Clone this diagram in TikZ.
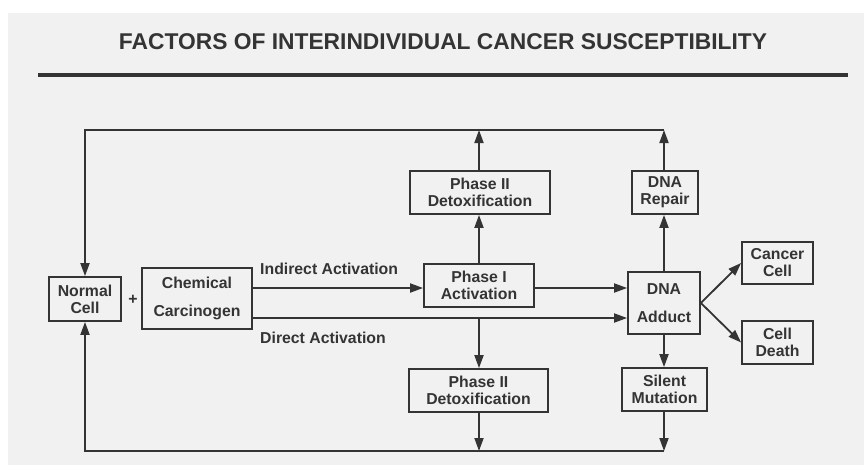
\documentclass[tikz,border=0pt]{standalone}
\usepackage{fontspec}
\setmainfont{Liberation Sans}
\usetikzlibrary{arrows.meta}
\definecolor{bg}{RGB}{241,241,241}
\definecolor{ink}{RGB}{52,52,52}
\begin{document}
\begin{tikzpicture}[x=1pt,y=-1pt,
  box/.style={draw=ink, line width=1.8pt, text=ink, font=\bfseries\fontsize{15.8}{17}\selectfont, align=center, inner sep=0pt},
  arr/.style={draw=ink, line width=1.8pt, line join=miter, -{Triangle[length=13pt,width=9pt]}},
  lab/.style={text=ink, font=\bfseries\fontsize{15.8}{17}\selectfont, inner sep=0pt}]
\useasboundingbox (0,0) rectangle (864,472);
\fill[white] (0,0) rectangle (864,472);
\fill[bg] (8,13) rectangle (864,465);
% title
\node[text=ink, font=\bfseries\fontsize{22.8}{24}\selectfont, inner sep=0pt] (title) at (443,42) {FACTORS OF INTERINDIVIDUAL CANCER SUSCEPTIBILITY};
\coordinate (rl) at (38,75);
\coordinate (rr) at (848,75);
\draw[ink, line width=4.5pt] (rl) -- (rr);
% boxes
\node[box, minimum width=72pt, minimum height=44pt] (normal) at (85,299) {Normal\\Cell};
\node[box, minimum width=110pt, minimum height=61pt] (chem) at (197,298.5) {Chemical\\[11pt]Carcinogen};
\node[box, minimum width=110pt, minimum height=43pt] (p1) at (479,285.5) {Phase I\\Activation};
\node[box, minimum width=140pt, minimum height=43pt] (p2a) at (480,192.5) {Phase II\\Detoxification};
\node[box, minimum width=139pt, minimum height=43pt] (p2b) at (478.5,390.5) {Phase II\\Detoxification};
\node[box, minimum width=66pt, minimum height=43pt] (rep) at (665,192.5) {DNA\\Repair};
\node[box, minimum width=72pt, minimum height=62pt] (add) at (664,303) {DNA\\[11pt]Adduct};
\node[box, minimum width=85pt, minimum height=43pt] (sil) at (664.5,389.5) {Silent\\Mutation};
\node[box, minimum width=71pt, minimum height=42pt] (can) at (777.5,263) {Cancer\\Cell};
\node[box, minimum width=71pt, minimum height=43pt] (dea) at (777.5,342.5) {Cell\\Death};
\node[lab] (plus) at (133,300) {+};
\node[lab, anchor=west] (ilab) at (260,269) {Indirect Activation};
\node[lab, anchor=west] (dlab) at (260,338) {Direct Activation};
% coordinates
\coordinate (tl) at (85,130);
\coordinate (tm) at (479,130);
\coordinate (tr) at (664,130);
\coordinate (bl) at (85,451);
\coordinate (bm) at (479,451);
\coordinate (br) at (664,451);
\coordinate (iy) at (0,288);
\coordinate (dy) at (0,318);
\coordinate (dbr) at (479,318);
% feedback loops
\draw[arr] (tr) -- (tl) -- (normal.north);
\draw[arr] (br) -- (bl) -- (normal.south);
\draw[arr] (tm |- p2a.north) -- (tm);
\draw[arr] (tr |- rep.north) -- (tr);
\draw[arr] (bm |- p2b.south) -- (bm);
\draw[arr] (br |- sil.south) -- (br);
% main flow
\draw[arr] (chem.east |- iy) -- (p1.west |- iy);
\draw[arr] (p1.east |- iy) -- (add.west |- iy);
\draw[arr] (chem.east |- dy) -- (add.west |- dy);
\draw[arr] (dbr) -- (dbr |- p2b.north);
\draw[arr] (tm |- p1.north) -- (tm |- p2a.south);
\draw[arr] (tr |- add.north) -- (tr |- rep.south);
\draw[arr] (tr |- add.south) -- (tr |- sil.north);
\draw[arr] (add.east) -- (can.west);
\draw[arr] (add.east) -- (dea.west);
\end{tikzpicture}
\end{document}
